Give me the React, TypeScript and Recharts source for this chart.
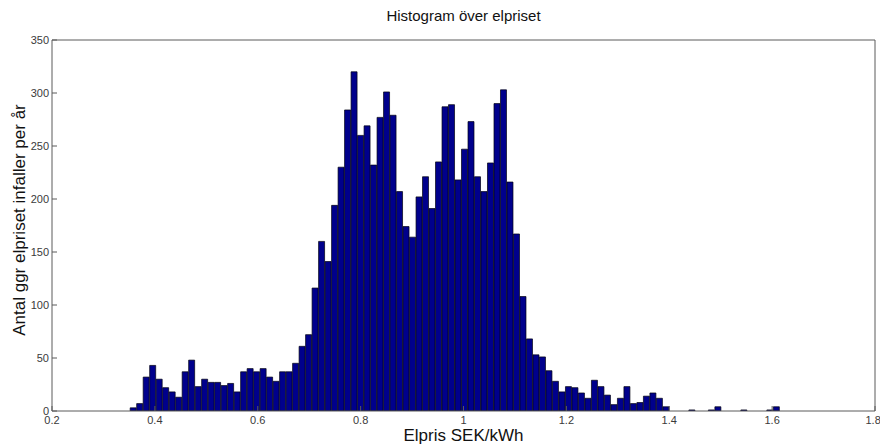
import React from 'react';
import { BarChart, Bar, XAxis, YAxis } from 'recharts';

// histogram bins (hist with 100 bins), left edge and width in SEK/kWh
const binStart = 0.352;
const binWidth = 0.01263;

// number of hours per bin
const counts = [
  3, 7, 32, 43, 30, 22, 18, 13, 37, 48,
  23, 30, 27, 27, 24, 26, 18, 37, 40, 37,
  40, 32, 28, 37, 37, 45, 61, 72, 116, 160,
  141, 194, 230, 284, 320, 260, 269, 232, 277, 301,
  279, 207, 174, 164, 202, 221, 191, 235, 287, 289,
  218, 247, 273, 221, 207, 234, 290, 303, 216, 167,
  108, 68, 53, 51, 38, 28, 18, 23, 22, 17,
  12, 29, 23, 15, 6, 12, 23, 7, 8, 14,
  17, 12, 4, 0, 0, 0, 1, 0, 0, 1,
  4, 0, 0, 0, 1, 0, 0, 0, 1, 4,
];

const xTicks = [0.2, 0.4, 0.6, 0.8, 1, 1.2, 1.4, 1.6, 1.8];
const yTicks = [0, 50, 100, 150, 200, 250, 300, 350];

const data = counts.map((n, i) => ({
  x: Number((binStart + (i + 0.5) * binWidth).toFixed(5)),
  n,
}));

const axisColor = '#5a5a5a';
const tickStyle = { fill: '#3a3a3a', fontSize: 11, fontFamily: 'Liberation Sans, Arial, sans-serif' };

export default function App() {
  return (
    <div
      style={{
        position: 'absolute',
        left: 0,
        top: 0,
        width: 880,
        height: 447,
        background: '#fff',
        fontFamily: 'Liberation Sans, Arial, sans-serif',
        color: '#111',
      }}
    >
      <BarChart
        width={880}
        height={447}
        data={data}
        margin={{ top: 39, right: 4, bottom: 16, left: 0 }}
        barCategoryGap={0}
        barGap={0}
      >
        <XAxis
          xAxisId="b"
          dataKey="x"
          type="number"
          domain={[0.2, 1.8]}
          ticks={xTicks}
          allowDataOverflow
          height={20}
          tickSize={-5}
          tickMargin={10}
          stroke={axisColor}
          tick={tickStyle}
          tickFormatter={(v: number) => String(v)}
        />
        <XAxis
          xAxisId="t"
          orientation="top"
          type="number"
          domain={[0.2, 1.8]}
          ticks={xTicks}
          allowDataOverflow
          height={1}
          tickSize={-5}
          tick={false}
          stroke={axisColor}
        />
        <YAxis
          yAxisId="l"
          type="number"
          domain={[0, 350]}
          ticks={yTicks}
          allowDataOverflow
          width={52}
          tickSize={-5}
          tickMargin={8}
          stroke={axisColor}
          tick={tickStyle}
        />
        <YAxis
          yAxisId="r"
          orientation="right"
          type="number"
          domain={[0, 350]}
          ticks={yTicks}
          allowDataOverflow
          width={1}
          tickSize={-5}
          tick={false}
          stroke={axisColor}
        />
        <Bar
          xAxisId="b"
          yAxisId="l"
          dataKey="n"
          fill="#00008c"
          stroke="#000010"
          strokeWidth={0.7}
          isAnimationActive={false}
        />
      </BarChart>

      <div
        style={{
          position: 'absolute',
          left: 52,
          width: 823,
          top: 7,
          textAlign: 'center',
          fontSize: 15,
        }}
      >
        Histogram över elpriset
      </div>
      <div
        style={{
          position: 'absolute',
          left: 52,
          width: 823,
          top: 426,
          textAlign: 'center',
          fontSize: 17,
        }}
      >
        Elpris SEK/kWh
      </div>
      <div
        style={{
          position: 'absolute',
          left: 20,
          top: 220,
          transform: 'translate(-50%, -50%) rotate(-90deg)',
          whiteSpace: 'nowrap',
          fontSize: 17,
        }}
      >
        Antal ggr elpriset infaller per år
      </div>
    </div>
  );
}
